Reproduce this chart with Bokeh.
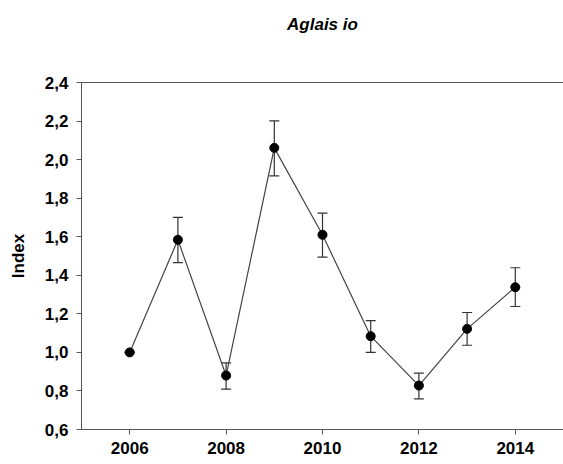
from bokeh.plotting import figure
from bokeh.models import (ColumnDataSource, Whisker, TeeHead, LinearAxis, FixedTicker,
                          Range1d)
from bokeh.embed import file_html
from bokeh.resources import INLINE

years = [2006, 2007, 2008, 2009, 2010, 2011, 2012, 2013, 2014]
index = [1.00, 1.584, 0.88, 2.061, 1.61, 1.084, 0.828, 1.122, 1.338]
upper = [1.00, 1.70, 0.946, 2.201, 1.722, 1.165, 0.892, 1.207, 1.439]
lower = [1.00, 1.466, 0.809, 1.916, 1.494, 1.00, 0.759, 1.037, 1.238]

x_ticks = [2006, 2008, 2010, 2012, 2014]
y_ticks = [0.6, 0.8, 1.0, 1.2, 1.4, 1.6, 1.8, 2.0, 2.2, 2.4]
y_tick_labels = ["0,6", "0,8", "1,0", "1,2", "1,4", "1,6", "1,8", "2,0", "2,2", "2,4"]

title_text = "Aglais io"
y_label = "Index"

FONT = "Liberation Sans"
AX = "#555555"

src = ColumnDataSource(dict(x=years, y=index, up=upper, lo=lower))

p = figure(width=563, height=464, output_backend="svg", toolbar_location=None,
           x_range=Range1d(2005, 2015), y_range=Range1d(0.6, 2.4),
           min_border_left=81, min_border_right=0, min_border_top=82,
           min_border_bottom=35)
p.outline_line_color = None
p.xgrid.grid_line_color = None
p.ygrid.grid_line_color = None
p.background_fill_color = "white"
p.border_fill_color = "white"

for ax in (p.xaxis[0], p.yaxis[0]):
    ax.axis_line_color = AX
    ax.major_tick_line_color = AX
    ax.minor_tick_line_color = None
    ax.major_tick_in = 0
    ax.major_tick_out = 5
    ax.major_label_text_font = FONT
    ax.major_label_text_font_style = "bold"
    ax.major_label_text_font_size = "17px"
    ax.major_label_text_color = "black"

p.xaxis[0].ticker = FixedTicker(ticks=x_ticks)
p.xaxis[0].major_label_standoff = 7
p.yaxis[0].ticker = FixedTicker(ticks=y_ticks)
p.yaxis[0].major_label_overrides = {t: l for t, l in zip(y_ticks, y_tick_labels)}
p.yaxis[0].major_label_standoff = 8
p.yaxis[0].axis_label = y_label
p.yaxis[0].axis_label_text_font = FONT
p.yaxis[0].axis_label_text_font_style = "bold"
p.yaxis[0].axis_label_text_font_size = "17px"
p.yaxis[0].axis_label_text_color = "black"
p.yaxis[0].axis_label_standoff = 14

top = LinearAxis(axis_line_color=AX, major_tick_line_color=None,
                 minor_tick_line_color=None, major_label_text_font_size="0px",
                 axis_label=title_text, axis_label_text_font=FONT,
                 axis_label_text_font_style="bold italic",
                 axis_label_text_color="black",
                 axis_label_text_font_size="17px", axis_label_standoff=49)
top.ticker = FixedTicker(ticks=[])
p.add_layout(top, "above")

p.line("x", "y", source=src, line_color="#444444", line_width=1.2)
w = Whisker(base="x", upper="up", lower="lo", source=src,
            line_color="#333333", line_width=1.2,
            upper_head=TeeHead(size=10, line_color="#333333", line_width=1.2),
            lower_head=TeeHead(size=10, line_color="#333333", line_width=1.2))
p.add_layout(w)
p.scatter("x", "y", source=src, size=9, fill_color="black", line_color="black")

open("out.html", "w").write(file_html(p, INLINE))
